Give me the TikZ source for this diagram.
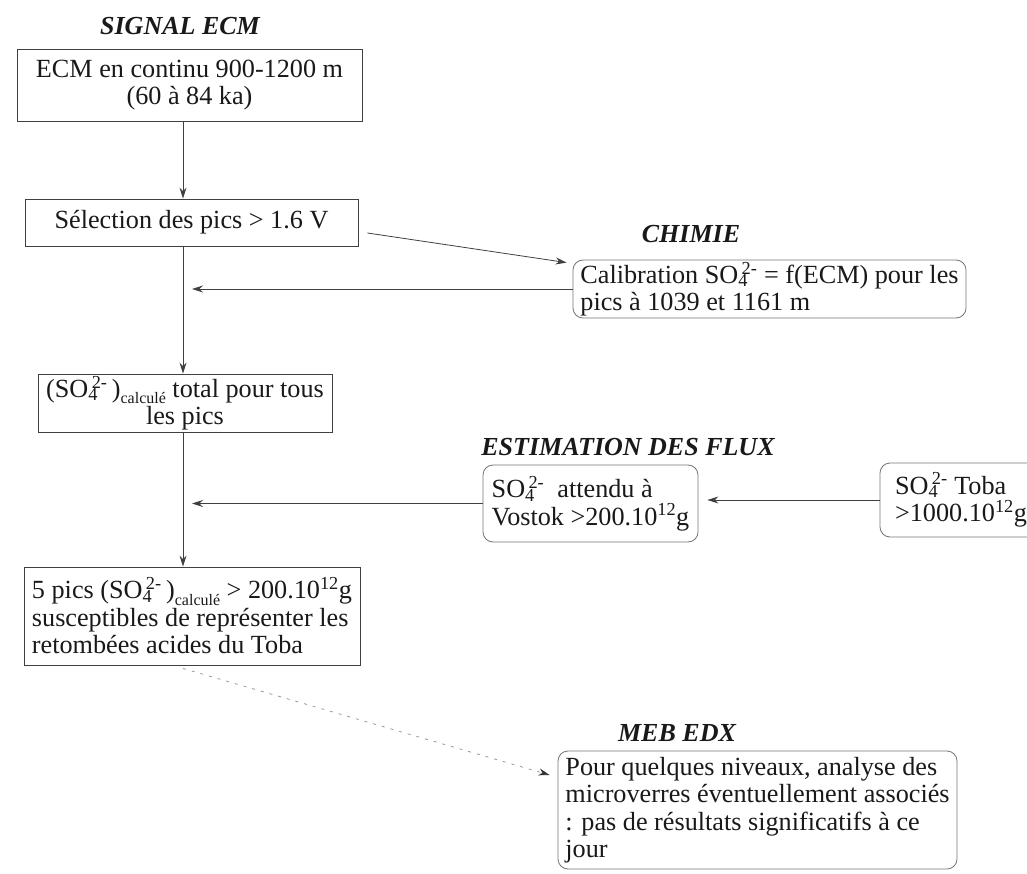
\documentclass[tikz,border=0pt]{standalone}
\usepackage{fontspec}
\setmainfont{Liberation Serif}
\usetikzlibrary{arrows.meta,calc}
\newcommand\SOq{SO\textsubscript{4}\kern-0.24em\textsuperscript{2-}}
\newcommand\calcsub{\raisebox{-0.24em}{\fontsize{16}{16}\selectfont calculé}}
\begin{document}
\begin{tikzpicture}[x=1pt,y=-1pt,
  every node/.style={font=\fontsize{26.2}{27.5}\selectfont, text=black!90},
  sqbox/.style={draw=black!75, line width=0.9pt, inner sep=0pt},
  rbox/.style={draw=black!55, line width=0.8pt, rounded corners=10pt, inner sep=0pt},
  ttl/.style={font=\fontsize{26}{27.5}\selectfont\bfseries\itshape},
  arr/.style={draw=black!75, line width=0.8pt, -{Stealth[length=11pt,width=7pt]}},
  faint/.style={draw=black!40, line width=0.8pt, dash pattern=on 3pt off 6pt, -{Stealth[length=11pt,width=7pt,color=black!80]}}]
\useasboundingbox (0,0) rectangle (1027,874);
\coordinate (tr) at (183,0);
\node[ttl] (t1) at (180,26) {SIGNAL ECM};
\node[sqbox, minimum width=345pt, minimum height=72pt, align=center] (b1) at (189.5,85) {ECM en continu 900-1200 m\\(60 à 84 ka)};
\node[sqbox, minimum width=333pt, minimum height=47pt] (b2) at (191.5,222.5) {Sélection des pics > 1.6 V};
\node[ttl] (t2) at (691,234) {CHIMIE};
\node[rbox, minimum width=393pt, minimum height=58pt, align=left] (b5) at (769.5,289) {Calibration \SOq{} = f(ECM) pour les\\pics à 1039 et 1161 m};
\node[sqbox, minimum width=294pt, minimum height=58pt, align=center] (b3) at (185,403) {(\SOq{}\,)\calcsub{} total pour tous\\les pics};
\node[ttl] (t3) at (628,447) {ESTIMATION DES FLUX};
\node[rbox, minimum width=215pt, minimum height=77pt, align=left] (b6) at (590.5,503.5) {\SOq{}\ \ attendu à\\Vostok >200.10\textsuperscript{12}g};
\node[rbox, minimum width=162pt, minimum height=74pt, align=left] (b7) at (961,500) {\SOq{} Toba\\>1000.10\textsuperscript{12}g};
\node[sqbox, minimum width=336pt, minimum height=98pt, align=left] (b4) at (192,616) {5 pics (\SOq{}\,)\calcsub{} > 200.10\textsuperscript{12}g\\susceptibles de représenter les\\retombées acides du Toba};
\node[ttl] (t4) at (677,733) {MEB EDX};
\node[rbox, minimum width=399pt, minimum height=118pt, align=left] (b8) at (757.5,810) {Pour quelques niveaux, analyse des\\microverres éventuellement associés\\: pas de résultats significatifs à ce\\jour};
\draw[arr] (b1.south -| tr) -- (b2.north -| tr);
\draw[arr] (b2.south -| tr) -- (b3.north -| tr);
\draw[arr] (b3.south -| tr) -- (b4.north -| tr);
\draw[arr, shorten >=9pt] (b5.west) -- (b5.west -| tr);
\draw[arr, shorten >=9pt] (b6.west) -- (b6.west -| tr);
\draw[arr, shorten >=9pt] (b7.west) -- (b7.west -| b6.east);
\draw[arr] ([xshift=9pt,yshift=-10.5pt]b2.east) -- ([xshift=-6pt,yshift=-3pt]b5.north west);
\draw[faint] ([xshift=-9pt,yshift=-3pt]b4.south) -- ([xshift=-8pt,yshift=35pt]b8.west);
\end{tikzpicture}
\end{document}
